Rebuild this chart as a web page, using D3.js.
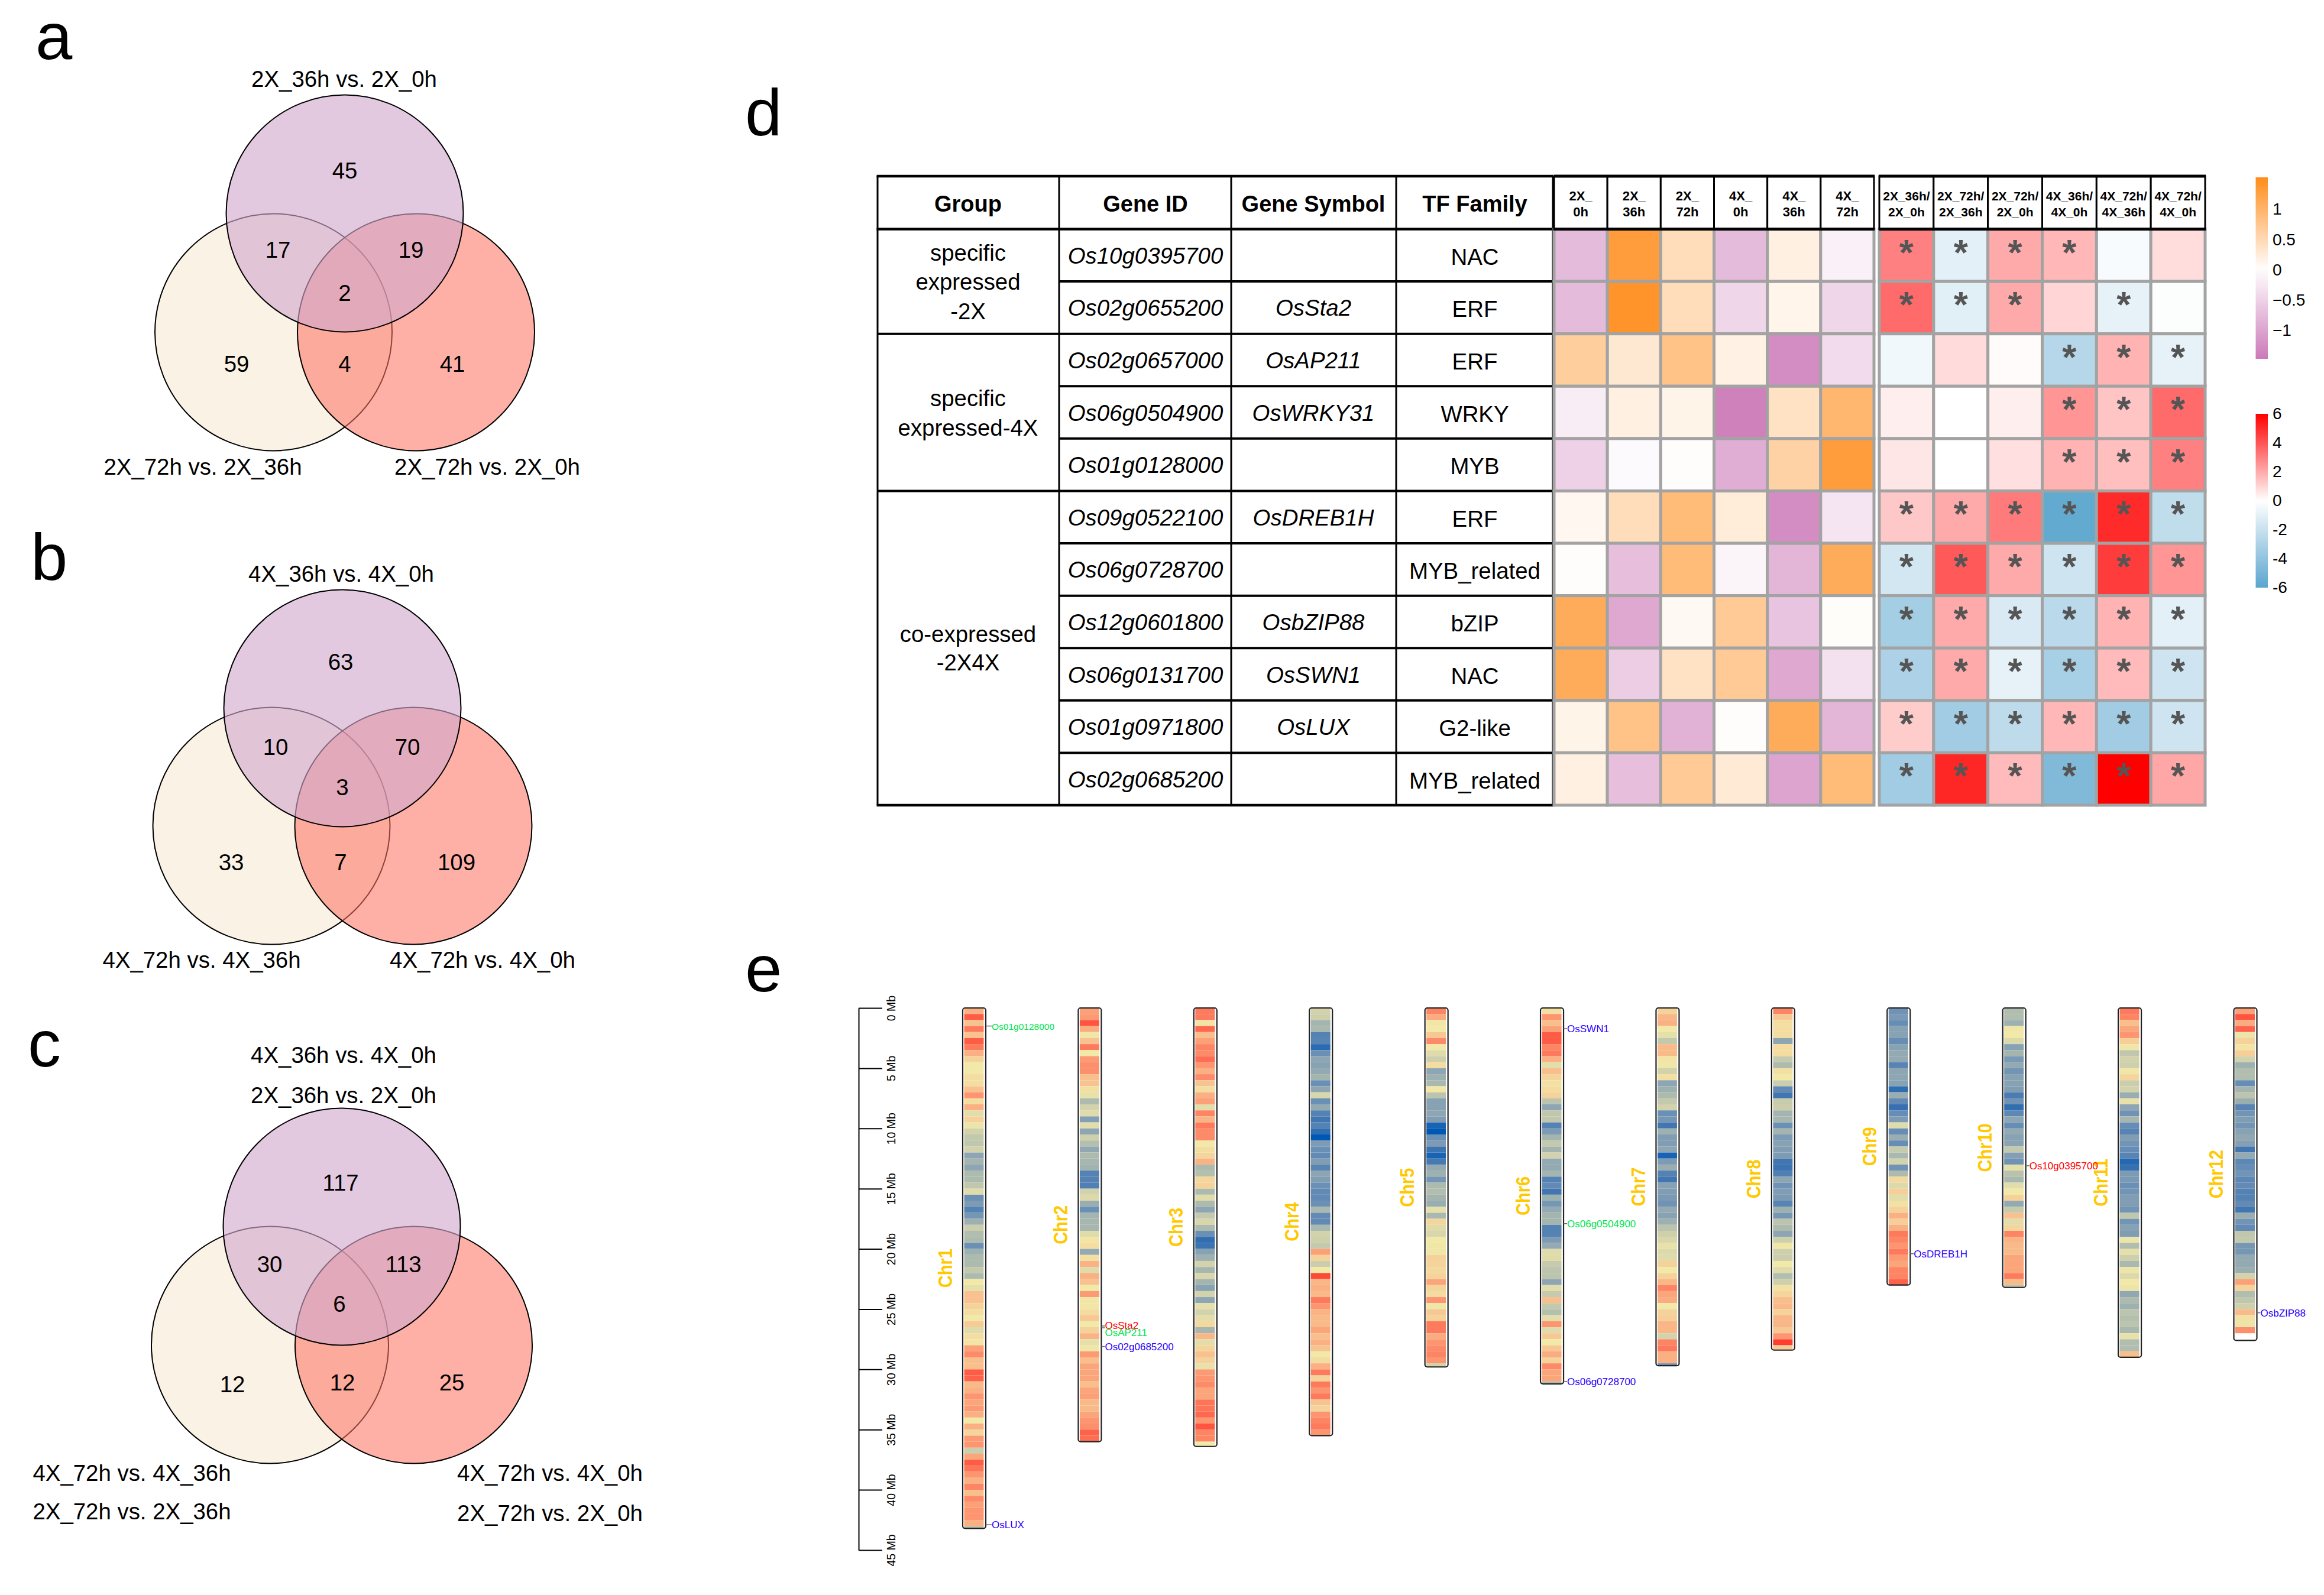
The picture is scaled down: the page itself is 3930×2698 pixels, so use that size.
<!DOCTYPE html>
<html>
<head>
<meta charset="utf-8">
<script src="https://cdn.jsdelivr.net/npm/d3@7"></script>
<style>
  body { margin: 0; background: #fff; }
  text { font-family: "Liberation Sans", Arial, sans-serif; }
</style>
</head>
<body>
<svg id="fig" width="3930" height="2698"></svg>
<script>
// venn counts: top only, top+left, top+right, all three, left only, left+right, right only
const vennACounts = [45, 17, 19, 2, 59, 4, 41];
const vennBCounts = [63, 10, 70, 3, 33, 7, 109];
const vennCCounts = [117, 30, 113, 6, 12, 12, 25];
const vennALabels = ['2X_36h vs. 2X_0h', '2X_72h vs. 2X_36h', '2X_72h vs. 2X_0h'];
const vennBLabels = ['4X_36h vs. 4X_0h', '4X_72h vs. 4X_36h', '4X_72h vs. 4X_0h'];

// table
const tableHeads = ['Group', 'Gene ID', 'Gene Symbol', 'TF Family'];
const geneIds = ['Os10g0395700', 'Os02g0655200', 'Os02g0657000', 'Os06g0504900', 'Os01g0128000', 'Os09g0522100',
  'Os06g0728700', 'Os12g0601800', 'Os06g0131700', 'Os01g0971800', 'Os02g0685200'];
const geneSymbols = ['', 'OsSta2', 'OsAP211', 'OsWRKY31', '', 'OsDREB1H', '', 'OsbZIP88', 'OsSWN1', 'OsLUX', ''];
const tfFamilies = ['NAC', 'ERF', 'ERF', 'WRKY', 'MYB', 'ERF', 'MYB_related', 'bZIP', 'NAC', 'G2-like', 'MYB_related'];

// expression heatmap
const exprHeads = [['2X_', '0h'], ['2X_', '36h'], ['2X_', '72h'], ['4X_', '0h'], ['4X_', '36h'], ['4X_', '72h']];
const exprValues = [
  [-0.75, 1.3, 0.45, -0.75, 0.2, -0.15],
  [-0.75, 1.42, 0.45, -0.45, 0.13, -0.45],
  [0.65, 0.3, 0.8, 0.17, -1.25, -0.4],
  [-0.2, 0.2, 0.15, -1.38, 0.4, 0.95],
  [-0.5, -0.05, 0.02, -0.9, 0.6, 1.3],
  [0.1, 0.45, 0.9, 0.25, -1.25, -0.3],
  [0.02, -0.7, 0.9, -0.12, -0.8, 1.1],
  [1.1, -0.95, 0.08, 0.7, -0.65, 0.03],
  [1.1, -0.55, 0.4, 0.7, -0.95, -0.33],
  [0.15, 0.8, -0.85, 0.02, 1.1, -0.8],
  [0.2, -0.7, 0.7, 0.28, -1.0, 0.9]
];

// fold change heatmap
const foldHeads = [['2X_36h/', '2X_0h'], ['2X_72h/', '2X_36h'], ['2X_72h/', '2X_0h'],
  ['4X_36h/', '4X_0h'], ['4X_72h/', '4X_36h'], ['4X_72h/', '4X_0h']];
const foldValues = [
  [3, -1, 2, 1.7, -0.25, 0.8],
  [3.5, -1.1, 2, 1, -0.9, -0.1],
  [-0.5, 0.85, 0.1, -2.7, 1.8, -0.9],
  [0.4, 0, 0.4, 2.5, 1.4, 3.5],
  [0.6, 0, 0.75, 1.8, 1.5, 3],
  [1.3, 2, 3.1, -5.7, 5, -2.3],
  [-1.6, 3.9, 2, -1.8, 4.6, 2.5],
  [-3.3, 2, -1.4, -2.5, 1.8, -1],
  [-3, 2, -0.9, -3.2, 1.6, -1.8],
  [1.2, -3.4, -2.4, 1.7, -3.4, -1.8],
  [-3.4, 5.1, 1.6, -4.6, 6, 2.1]
];
const foldStars = [
  [1, 1, 1, 1, 0, 0],
  [1, 1, 1, 0, 1, 0],
  [0, 0, 0, 1, 1, 1],
  [0, 0, 0, 1, 1, 1],
  [0, 0, 0, 1, 1, 1],
  [1, 1, 1, 1, 1, 1],
  [1, 1, 1, 1, 1, 1],
  [1, 1, 1, 1, 1, 1],
  [1, 1, 1, 1, 1, 1],
  [1, 1, 1, 1, 1, 1],
  [1, 1, 1, 1, 1, 1]
];
const exprTicks = [1, 0.5, 0, -0.5, -1];
const foldTicks = [6, 4, 2, 0, -2, -4, -6];

// chromosome lengths in Mb and density levels per 0.5 Mb bin
const chrNames = ['Chr1', 'Chr2', 'Chr3', 'Chr4', 'Chr5', 'Chr6', 'Chr7', 'Chr8', 'Chr9', 'Chr10', 'Chr11', 'Chr12'];
const chrLengths = [43.2, 36, 36.4, 35.5, 29.8, 31.2, 29.7, 28.4, 23, 23.2, 29, 27.6];
const chr1 = [8, 9.5, 7.5, 9, 7.5, 9.5, 9, 8, 7, 6, 6, 6.5, 6.5, 7.5, 8.5, 6.5, 8, 5.5, 7, 5.8, 5, 4.6, 4.5, 5, 3, 3.7, 3, 4, 4, 4.5, 5.4, 2, 2.5, 1.5, 2.3, 3.5, 4.8, 4.1, 4, 2, 3.5, 4, 4, 4.6, 4, 6, 5.6, 7.5, 7.5, 7, 6.5, 6, 7.2, 5.4, 6.5, 6.2, 8.3, 8.7, 7.6, 7.6, 9.5, 9.4, 7.7, 8, 8.5, 8.2, 8.4, 8, 6, 8, 6.8, 8.4, 8.5, 4.8, 8.2, 9.5, 9.1, 8.5, 8, 8.8, 7.6, 8.7, 8.3, 8.5, 8.5, 8, 4.3];
const chr2 = [8.3, 8.4, 9.6, 8.1, 5.9, 7.5, 9, 6, 8.4, 8.6, 8.6, 7.6, 7.4, 6.4, 5.7, 4, 5, 5.4, 2.7, 5.5, 3, 4.9, 4.2, 3.1, 4, 3.8, 3.6, 1.5, 1.5, 1.4, 5, 5.3, 3.4, 2, 3.7, 3.8, 3.8, 5.4, 6.2, 6.5, 3.2, 6.4, 7.9, 5.4, 8, 7.5, 6, 8.4, 6.1, 6.1, 6.6, 7.3, 6, 7, 7.9, 5.6, 5.9, 8.4, 7.6, 8.2, 8.2, 8.2, 7.6, 8.2, 8.3, 7.7, 7.7, 8.2, 8.5, 8.6, 9.4, 9.2];
const chr3 = [9, 9, 6.2, 9.3, 7.6, 8.3, 8.8, 8.7, 9.2, 8.5, 8, 8.7, 7.4, 6.5, 8, 8.3, 5.5, 8.8, 7.9, 9, 8.7, 8.7, 6, 6.5, 6.8, 7.9, 4, 4.2, 6.8, 7, 4, 5.4, 4, 3, 4.6, 5.2, 4, 2, 0.8, 1, 2.8, 3.5, 5, 3.8, 5.2, 3.7, 2.8, 5, 3, 5.6, 5, 5.5, 6.7, 3.8, 7.8, 5.5, 6.9, 7.5, 7, 5.7, 8.4, 8.5, 8.7, 8.2, 8.2, 9.1, 9.1, 9.3, 8.5, 9.6, 8.8, 8.8, 6];
const chr4 = [5, 4.9, 3.7, 3.9, 1.5, 1.6, 0.7, 2, 3, 2.8, 3.2, 3.7, 2, 3, 5.2, 2, 3.2, 1.5, 1.1, 1.5, 0.8, 0, 2.5, 2, 1.8, 2.6, 1.6, 3, 2.6, 2, 1.8, 1.8, 2, 3.9, 1.8, 1.8, 3.9, 5, 4.9, 4.6, 8.3, 7, 4.8, 6, 9.8, 7.8, 8, 7.7, 9, 8.5, 7.9, 7.7, 7.7, 8.2, 7.6, 8, 7.4, 6, 6.6, 8, 9, 7, 9, 8.5, 9, 7.4, 6.9, 8.5, 8.8, 9, 8.5];
const chr5 = [8.8, 8.1, 6.1, 6, 7.3, 8.7, 6, 5.4, 4.9, 6.5, 3, 3.5, 3.9, 6.1, 4.4, 2.8, 2.8, 3, 2.6, 0.4, 0, 2, 2.5, 1, 0.4, 1.2, 3.2, 3.5, 2.3, 4, 4.1, 3.7, 3.4, 5.6, 3.9, 6.8, 5.4, 5.2, 6, 5.9, 5.9, 7, 6.9, 6.7, 6.9, 8.2, 6.9, 6.6, 8.5, 5.9, 7.3, 7, 9, 9, 8.1, 8.5, 8.7, 8.8, 8.5, 5];
const chr6 = [6.4, 8.5, 7.6, 8.3, 9.5, 9.5, 8.8, 9, 8, 5.5, 7.6, 6.9, 6.3, 6.6, 7, 4.4, 3, 4.5, 4.5, 1.5, 2.5, 3.7, 4.6, 3.7, 5, 3.2, 3.2, 3.7, 1.5, 1.8, 1.1, 3.5, 2.3, 3.2, 3.7, 3.7, 1.5, 1.5, 2.5, 3.2, 5.4, 5.4, 4.7, 4.4, 4.4, 3, 5.5, 4.7, 7.6, 4.6, 4.2, 5.5, 8.5, 5.4, 7.3, 6, 7.3, 8.1, 7, 8.7, 8.2, 8.2, 4];
const chr7 = [7, 7.8, 8, 6, 5.6, 4.6, 7.7, 7.7, 6.2, 5.9, 5, 6.4, 3, 3.5, 4, 4.6, 5, 2, 2.3, 1.1, 3.5, 2.6, 2.6, 3, 0.4, 2.5, 3.4, 1.5, 1.1, 2.8, 2.6, 2.4, 2.1, 3.2, 2.8, 3.5, 4.4, 4.9, 5.2, 5.7, 5.3, 5.4, 7, 6, 7, 7.8, 8.8, 8.2, 8.1, 6, 7, 7.1, 7.8, 7.8, 5, 8.8, 9, 8, 8, 1.9];
const chr8 = [8.8, 7.3, 6.5, 6.5, 6.5, 3, 6.6, 6.6, 4.7, 4, 6.4, 6, 4.8, 1.8, 1.1, 4.7, 4.8, 3.7, 3.8, 2, 3.7, 2.5, 2.8, 2.6, 2.5, 1.1, 1, 1.4, 3, 2.1, 2.6, 2.4, 1.6, 3.5, 2.3, 4.4, 4, 3, 4.9, 5.9, 4.9, 4.8, 6, 5.4, 4.1, 4.9, 6.3, 6.8, 7.6, 7.7, 7, 7.8, 7.8, 7.3, 8.5, 10, 7.3];
const chr9 = [2.1, 2.4, 1.9, 2.8, 2.8, 1.9, 2.8, 3.2, 3.2, 1.6, 3, 3, 2.8, 0.8, 3.4, 1.8, 0.9, 1.9, 2.5, 5.4, 1.9, 3.4, 1.9, 4.7, 3.9, 5, 2.1, 4, 6.7, 5.3, 7.1, 5.5, 6.3, 7, 8, 7.1, 8, 9, 8.8, 8.5, 9, 8.4, 8.2, 8.8, 8.8, 9.4];
const chr10 = [4.1, 4.1, 3.5, 5.9, 6, 5.3, 2.8, 3.7, 2.4, 3.2, 2.2, 2.8, 2.8, 2.6, 1.3, 2.1, 0.8, 1.7, 3, 1.9, 3.2, 2.8, 2.9, 4.6, 2.7, 2.1, 5.6, 4.3, 3.9, 5.5, 6, 7, 3.2, 4.7, 7.5, 5.5, 6.8, 8.8, 7.9, 7.7, 7.7, 8.2, 8.2, 8.2, 9, 7.7, 4.3];
const chr11 = [9, 8.8, 7.6, 8.2, 8.5, 7.1, 5.9, 4.5, 5, 4.9, 6.1, 6.8, 4.8, 5, 3.4, 5.7, 3, 2.1, 3.8, 1.9, 1.6, 2.6, 2.2, 1.9, 1.6, 0.6, 0.9, 2.5, 2.4, 2, 2.2, 2.6, 2.6, 2.2, 4.5, 2.2, 2.8, 2.6, 5.8, 4.1, 5.6, 4.9, 3.9, 5.8, 5.3, 6, 5.8, 3.1, 4, 3.5, 4.4, 4.2, 4.4, 3.9, 5.7, 4.1, 4.1, 7.6];
const chr12 = [8.3, 9.6, 8.1, 9.4, 5.8, 7, 6.2, 7.1, 5, 3.5, 4.1, 4.1, 1.9, 3.7, 4.4, 3.4, 1.6, 2.2, 2.6, 2.2, 2.8, 3.1, 2.7, 1.1, 3.2, 1.7, 1.9, 2.2, 1.7, 1.8, 1.5, 1.5, 1.8, 1.1, 3.4, 2.2, 1.8, 4.5, 4.6, 2.3, 2.3, 3.2, 3.2, 3.4, 5, 8.3, 7, 4.1, 4.5, 4.9, 7.7, 6.3, 5.8, 8.6];
const chrBins = [chr1, chr2, chr3, chr4, chr5, chr6, chr7, chr8, chr9, chr10, chr11, chr12];
const BIN_MB = 0.5;
const mbTicks = [0, 5, 10, 15, 20, 25, 30, 35, 40, 45];

// gene markers on the chromosomes: name, chromosome, position in Mb, group
const markerNames = ['Os01g0128000', 'OsLUX', 'OsSta2', 'OsAP211', 'Os02g0685200', 'OsSWN1', 'Os06g0504900', 'Os06g0728700', 'OsDREB1H', 'Os10g0395700', 'OsbZIP88'];
const markerChrs = ['Chr1', 'Chr1', 'Chr2', 'Chr2', 'Chr2', 'Chr6', 'Chr6', 'Chr6', 'Chr9', 'Chr10', 'Chr12'];
const markerMb = [1.5, 42.9, 26.4, 26.55, 28.1, 1.72, 17.9, 31, 20.4, 13.1, 25.3];
const markerGroups = ['4X', 'co', '2X', '4X', 'co', 'co', '4X', 'co', 'co', '2X', 'co'];

const svg = d3.select('#fig');
const BASE = 38.4;

function panelLetter(s, x, y) {
  svg.append('text').attr('x', x).attr('y', y).attr('font-size', 112).text(s);
}
panelLetter('a', 60, 100);
panelLetter('b', 52, 981);
panelLetter('c', 47, 1804);
panelLetter('d', 1260, 229);
panelLetter('e', 1260, 1677);

/**
 * one three-circle venn
 * cx, cy - centre of the top circle
 * dx - half the distance between the two lower circles, dy - drop to the lower circles
 * counts - the seven region counts, offsets - the seven label offsets from the top centre
 */
function drawVenn(cx, cy, dx, dy, counts, offsets) {
  const r = 200.5;
  const g = svg.append('g');
  const circles = [
    {x: cx - dx, y: cy + dy, fill: '#f9f2e5', op: 1},
    {x: cx + dx, y: cy + dy, fill: 'rgb(255,114,96)', op: 0.56},
    {x: cx, y: cy, fill: 'rgb(210,168,205)', op: 0.62}
  ];
  g.selectAll('circle').data(circles).enter().append('circle')
    .attr('cx', d => d.x).attr('cy', d => d.y).attr('r', r)
    .attr('fill', d => d.fill).attr('fill-opacity', d => d.op)
    .attr('stroke', '#000').attr('stroke-width', 2);
  g.selectAll('text').data(counts).enter().append('text')
    .attr('x', (d, i) => cx + offsets[i][0])
    .attr('y', (d, i) => cy + offsets[i][1] + 13)
    .attr('text-anchor', 'middle').attr('font-size', BASE)
    .text(d => d);
}

function vennLabel(s, x, y) {
  svg.append('text').attr('x', x).attr('y', y).attr('text-anchor', 'middle').attr('font-size', BASE).text(s);
}

drawVenn(583, 361, 120.5, 201, vennACounts, [[0, -72], [-113, 62], [112, 62], [0, 135], [-183, 255], [0, 255], [182, 255]]);
vennLabel(vennALabels[0], 582, 147);
vennLabel(vennALabels[1], 343, 803);
vennLabel(vennALabels[2], 824, 803);

drawVenn(579, 1198, 120, 199, vennBCounts, [[-3, -78], [-113, 66], [110, 66], [0, 134], [-188, 261], [-3, 261], [193, 261]]);
vennLabel(vennBLabels[0], 577, 984);
vennLabel(vennBLabels[1], 341, 1637);
vennLabel(vennBLabels[2], 816, 1637);

drawVenn(578, 2075, 121.5, 200, vennCCounts, [[-2, -74], [-122, 64], [104, 64], [-4, 131], [-185, 267], [1, 264], [186, 264]]);
vennLabel(vennBLabels[0], 581, 1798);
vennLabel(vennALabels[0], 581, 1866);
vennLabel(vennBLabels[1], 223, 2505);
vennLabel(vennALabels[1], 223, 2570);
vennLabel(vennBLabels[2], 930, 2505);
vennLabel(vennALabels[2], 930, 2573);

// ---- table ----
const rowY = d3.scaleBand().domain(geneIds).range([387.5, 1362]);
const colEdges = [1484, 1791, 2082, 2361, 2626];
const tableTop = 298;
const t = svg.append('g');

function tableLine(x1, y1, x2, y2, w) {
  t.append('line').attr('x1', x1).attr('y1', y1).attr('x2', x2).attr('y2', y2)
    .attr('stroke', '#000').attr('stroke-width', w);
}
colEdges.forEach(x => tableLine(x, tableTop, x, 1362, 3));
tableLine(colEdges[0] - 1.5, tableTop, colEdges[4], tableTop, 4.5);
tableLine(colEdges[0] - 1.5, 387.5, colEdges[4], 387.5, 4.5);
tableLine(colEdges[0] - 1.5, 1362, colEdges[4] + 1.5, 1362, 4.5);
geneIds.slice(1).forEach((id, i) => {
  // the group column is only ruled where a new group starts
  const startsGroup = i === 1 || i === 4;
  tableLine(startsGroup ? colEdges[0] : colEdges[1], rowY(id), colEdges[4], rowY(id), 4);
});

const colCentres = [1637, 1937, 2221, 2494];
t.selectAll('.head').data(tableHeads).enter().append('text')
  .attr('class', 'head')
  .attr('x', (d, i) => colCentres[i]).attr('y', 358)
  .attr('text-anchor', 'middle').attr('font-size', 38).attr('font-weight', 'bold')
  .text(d => d);

function rowText(values, col, italic, dy) {
  t.append('g').selectAll('text').data(values).enter().append('text')
    .attr('x', colCentres[col])
    .attr('y', (d, i) => rowY(geneIds[i]) + rowY.bandwidth() / 2 + dy)
    .attr('text-anchor', 'middle').attr('font-size', BASE)
    .attr('font-style', italic ? 'italic' : 'normal')
    .text(d => d);
}
rowText(geneIds, 1, true, 14);
rowText(geneSymbols, 2, true, 14);
rowText(tfFamilies, 3, false, 16);

function groupText(lines, ys) {
  lines.forEach((s, i) => {
    t.append('text').attr('x', colCentres[0]).attr('y', ys[i])
      .attr('text-anchor', 'middle').attr('font-size', BASE).text(s);
  });
}
groupText(['specific', 'expressed', '-2X'], [441, 490, 540]);
groupText(['specific', 'expressed-4X'], [687, 737]);
groupText(['co-expressed', '-2X4X'], [1086, 1134]);

// ---- heatmaps ----
const exprColor = d3.scaleLinear().domain([-1.47, 0, 1.526]).range(['#cc79b8', '#ffffff', '#ff8c1a']);
const foldColor = d3.scaleLinear().domain([-6, 0, 6]).range(['#5aa5ce', '#ffffff', '#ff0000']);

function drawHeat(x0, x1, heads, values, color, stars, headSize) {
  const cols = d3.range(6);
  const x = d3.scaleBand().domain(cols).range([x0, x1]);
  const g = svg.append('g');
  const cells = values.flatMap((row, r) => row.map((v, c) => ({r, c, v})));
  g.selectAll('rect').data(cells).enter().append('rect')
    .attr('x', d => x(d.c)).attr('y', d => rowY(geneIds[d.r]))
    .attr('width', x.bandwidth()).attr('height', rowY.bandwidth())
    .attr('fill', d => color(d.v))
    .attr('stroke', '#a3a3a3').attr('stroke-width', 5);
  if (stars) {
    g.selectAll('.star').data(cells.filter(d => stars[d.r][d.c])).enter().append('text')
      .attr('class', 'star')
      .attr('x', d => x(d.c) + x.bandwidth() / 2)
      .attr('y', d => rowY(geneIds[d.r]) + 60)
      .attr('text-anchor', 'middle').attr('font-size', 62).attr('font-weight', 'bold').attr('fill', '#555')
      .text('*');
  }
  // header cells
  cols.forEach(c => {
    g.append('rect').attr('x', x(c)).attr('y', tableTop)
      .attr('width', x.bandwidth()).attr('height', 387.5 - tableTop)
      .attr('fill', '#fff').attr('stroke', '#000').attr('stroke-width', 3);
    heads[c].forEach((s, i) => {
      g.append('text').attr('x', x(c) + x.bandwidth() / 2).attr('y', 339 + i * 27)
        .attr('text-anchor', 'middle').attr('font-size', headSize).attr('font-weight', 'bold').text(s);
    });
  });
  g.append('line').attr('x1', x0 - 1).attr('x2', x1 + 1).attr('y1', tableTop).attr('y2', tableTop)
    .attr('stroke', '#000').attr('stroke-width', 5);
  g.append('line').attr('x1', x0 - 1).attr('x2', x1 + 1).attr('y1', 387.5).attr('y2', 387.5)
    .attr('stroke', '#000').attr('stroke-width', 5);
}
drawHeat(2628, 3169, exprHeads, exprValues, exprColor, null, 22);
drawHeat(3178, 3729, foldHeads, foldValues, foldColor, foldStars, 21);

// ---- colour keys ----
function drawKey(id, color, yScale, ticks, fmt, size) {
  const [lo, hi] = yScale.domain();
  const stops = d3.range(0, 11).map(i => hi + (lo - hi) * i / 10);
  const grad = svg.append('defs').append('linearGradient').attr('id', id)
    .attr('x1', 0).attr('x2', 0).attr('y1', 0).attr('y2', 1);
  grad.selectAll('stop').data(stops).enter().append('stop')
    .attr('offset', (d, i) => i / 10).attr('stop-color', d => color(d));
  svg.append('rect').attr('x', 3814.5).attr('width', 20.5)
    .attr('y', yScale(hi)).attr('height', yScale(lo) - yScale(hi))
    .attr('fill', `url(#${id})`);
  const axis = svg.append('g').attr('transform', 'translate(3835,0)')
    .call(d3.axisRight(yScale).tickValues(ticks).tickSize(0).tickPadding(8).tickFormat(fmt));
  axis.select('.domain').remove();
  axis.selectAll('text').attr('font-size', size).attr('font-family', '"Liberation Sans", Arial, sans-serif').attr('fill', '#000');
}
drawKey('exprKey', exprColor, d3.scaleLinear().domain([-1.47, 1.526]).range([607, 300]),
  exprTicks, d => String(d).replace('-', '\u2212'), 28);
drawKey('foldKey', foldColor, d3.scaleLinear().domain([-6, 6]).range([994, 700]),
  foldTicks, d => String(d), 28);

// ---- ideogram ----
const yMb = d3.scaleLinear().domain([0, 45]).range([1705, 2622]);
const axisG = svg.append('g').attr('transform', 'translate(1452,0)')
  .call(d3.axisRight(yMb).tickValues(mbTicks).tickSize(40).tickSizeOuter(0).tickFormat(d => `${d} Mb`));
axisG.selectAll('path, line').attr('stroke', '#000').attr('stroke-width', 2);
// the tick group already sits at the tick's y, so only the label's own rotation is left
axisG.selectAll('text')
  .attr('font-size', 19.5).attr('fill', '#000')
  .attr('font-family', '"Liberation Sans", Arial, sans-serif')
  .attr('text-anchor', 'middle')
  .attr('x', 0).attr('y', 0).attr('dy', 0)
  .attr('transform', 'translate(62,0) rotate(-90)');

const xChr = d3.scalePoint().domain(chrNames).range([1647.5, 3797]);
const CHR_W = 39;
const densityColor = d3.scaleLinear()
  .domain([0, 1, 2, 3, 4, 5, 6, 7, 8, 9, 10])
  .range(['#0058b5', '#3c73b1', '#6b90b5', '#8ea6b3', '#adbbae', '#d2d2ac', '#f2e8a8', '#f5d29a', '#fab083', '#fe7a5c', '#ff3d2e'])
  .clamp(true);

chrNames.forEach((name, i) => {
  const left = xChr(name) - CHR_W / 2;
  const len = chrLengths[i];
  const g = svg.append('g');
  g.selectAll('rect').data(chrBins[i]).enter().append('rect')
    .attr('x', left + 2.5).attr('width', CHR_W - 6)
    .attr('y', (d, b) => yMb(b * BIN_MB))
    .attr('height', (d, b) => Math.max(0, yMb(Math.min(len, (b + 1) * BIN_MB)) - yMb(b * BIN_MB)))
    .attr('fill', d => densityColor(d));
  g.append('rect').attr('x', left).attr('y', yMb(0))
    .attr('width', CHR_W).attr('height', yMb(len) - yMb(0))
    .attr('rx', 4).attr('fill', 'none').attr('stroke', '#222').attr('stroke-width', 2.2);
  const midY = yMb(len / 2);
  g.append('text')
    .attr('transform', `translate(${left - 18.5},${midY}) rotate(-90) scale(1,1.12)`)
    .attr('text-anchor', 'middle').attr('font-size', 29).attr('font-weight', 'bold')
    .attr('fill', '#ffc800').text(name);
});

const markerColor = d3.scaleOrdinal().domain(['2X', '4X', 'co']).range(['#ff0000', '#00e650', '#2a00ff']);
markerNames.forEach((name, i) => {
  const right = xChr(markerChrs[i]) + CHR_W / 2;
  const y = yMb(markerMb[i]);
  // OsSta2 and OsAP211 sit so close that their labels are pushed apart
  const textY = name === 'OsAP211' ? y + 8 : name === 'OsSta2' ? y - 1 : y;
  const textX = right + (name === 'Os01g0128000' || name === 'OsLUX' ? 10 : 6);
  svg.append('line').attr('x1', right).attr('x2', textX).attr('y1', y).attr('y2', y)
    .attr('stroke', '#666').attr('stroke-width', 1.5);
  svg.append('text').attr('x', textX).attr('y', textY + 6)
    .attr('font-size', name === 'Os01g0128000' ? 15.5 : 17)
    .attr('fill', markerColor(markerGroups[i])).text(name);
});
</script>
</body>
</html>
